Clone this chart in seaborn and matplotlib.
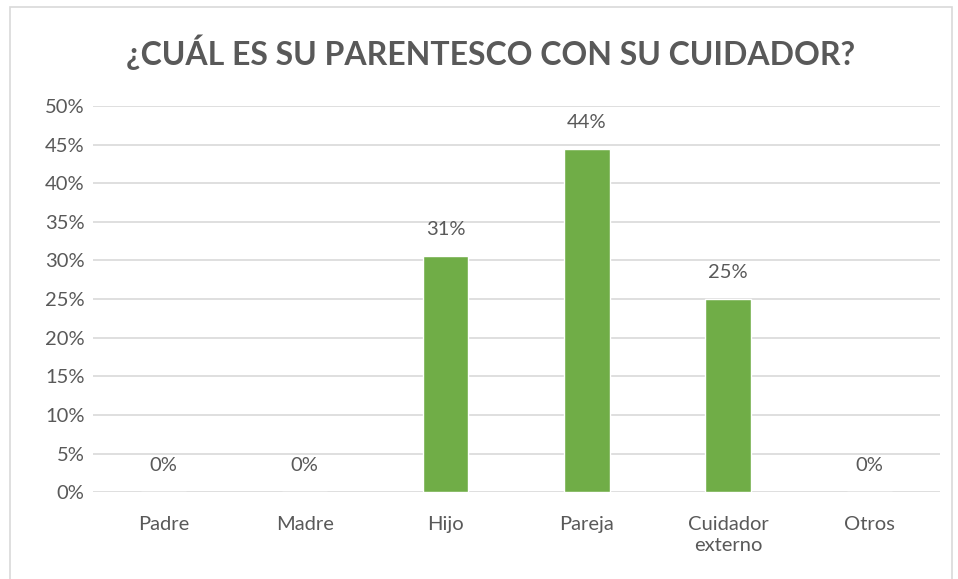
import pandas as pd
import matplotlib.pyplot as plt
import seaborn as sns
from matplotlib.patches import Rectangle
from matplotlib.ticker import PercentFormatter

# Data
categorias = ['Padre', 'Madre', 'Hijo', 'Pareja', 'Cuidador\nexterno', 'Otros']
porcentajes = [0.0, 0.0, 30.56, 44.44, 25.0, 0.0]
etiquetas = ['0%', '0%', '31%', '44%', '25%', '0%']
ticks_y = [0, 5, 10, 15, 20, 25, 30, 35, 40, 45, 50]

sns.set_theme(style="whitegrid")
plt.rcParams['font.family'] = ['Lato', 'DejaVu Sans']

gris = '#595959'
verde = '#70AD47'

df = pd.DataFrame({'Parentesco': categorias, 'Porcentaje': porcentajes})

fig = plt.figure(figsize=(9.58, 5.79), dpi=100)
fig.patch.set_facecolor('white')
ax = fig.add_axes([0.097, 0.150, 0.884, 0.667])

sns.barplot(data=df, x='Parentesco', y='Porcentaje', color=verde,
            width=0.32, saturation=1, ax=ax)

ax.set_ylim(0, 50)
ax.set_yticks(ticks_y)
ax.yaxis.set_major_formatter(PercentFormatter(decimals=0))
ax.set_xlim(-0.5, len(categorias) - 0.5)
ax.set_xlabel('')
ax.set_ylabel('')
ax.grid(axis='x', visible=False)
ax.grid(axis='y', color='#D9D9D9', linewidth=1.2)
ax.set_axisbelow(True)
for s in ax.spines.values():
    s.set_visible(False)
ax.tick_params(axis='both', length=0, labelsize=14.5, colors=gris)
ax.tick_params(axis='x', pad=17)
ax.tick_params(axis='y', pad=6)
for t in ax.get_xticklabels():
    t.set_linespacing(1.3)
    t.set_verticalalignment('top')
ax.set_facecolor('white')

for i, (v, lab) in enumerate(zip(porcentajes, etiquetas)):
    ax.annotate(lab, (i, v), xytext=(0, 19), textcoords='offset points',
                ha='center', va='center', fontsize=14.5, color=gris)

fig.text(0.512, 0.91, '¿CUÁL ES SU PARENTESCO CON SU CUIDADOR?',
         ha='center', va='center', fontsize=23, fontweight='bold', color=gris)

# Light frame around the chart area
fig.add_artist(Rectangle((10 / 958, -0.05), 942 / 958, 1.05 - 7 / 579,
                         transform=fig.transFigure, fill=False,
                         edgecolor='#D9D9D9', linewidth=1.2))

fig.savefig('out.png', dpi=100)
